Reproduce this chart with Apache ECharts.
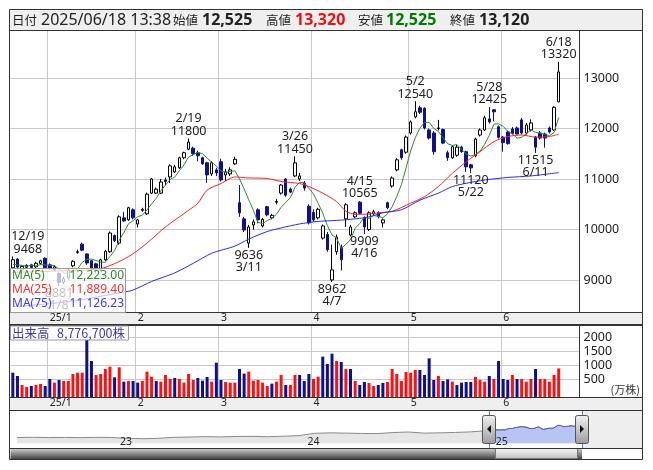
<!DOCTYPE html>
<html><head><meta charset="utf-8">
<script src="https://cdn.jsdelivr.net/npm/echarts@6/dist/echarts.min.js"></script>
<style>html,body{margin:0;padding:0;background:#fff;}#c{width:653px;height:470px;}</style>
</head><body><div id="c"></div>
<script>
// ---------------- DATA ----------------
const days = [
'2024-12-19','2024-12-20','2024-12-23','2024-12-24','2024-12-25','2024-12-26','2024-12-27','2024-12-30',
'2025-01-06','2025-01-07','2025-01-08','2025-01-09','2025-01-10','2025-01-14','2025-01-15','2025-01-16','2025-01-17','2025-01-20','2025-01-21','2025-01-22','2025-01-23','2025-01-24','2025-01-27','2025-01-28','2025-01-29','2025-01-30','2025-01-31',
'2025-02-03','2025-02-04','2025-02-05','2025-02-06','2025-02-07','2025-02-10','2025-02-12','2025-02-13','2025-02-14','2025-02-17','2025-02-18','2025-02-19','2025-02-20','2025-02-21','2025-02-25','2025-02-26','2025-02-27','2025-02-28',
'2025-03-03','2025-03-04','2025-03-05','2025-03-06','2025-03-07','2025-03-10','2025-03-11','2025-03-12','2025-03-13','2025-03-14','2025-03-17','2025-03-18','2025-03-19','2025-03-21','2025-03-24','2025-03-25','2025-03-26','2025-03-27','2025-03-28','2025-03-31',
'2025-04-01','2025-04-02','2025-04-03','2025-04-04','2025-04-07','2025-04-08','2025-04-09','2025-04-10','2025-04-11','2025-04-14','2025-04-15','2025-04-16','2025-04-17','2025-04-18','2025-04-21','2025-04-22','2025-04-23','2025-04-24','2025-04-25','2025-04-28','2025-04-30',
'2025-05-01','2025-05-02','2025-05-07','2025-05-08','2025-05-09','2025-05-12','2025-05-13','2025-05-14','2025-05-15','2025-05-16','2025-05-19','2025-05-20','2025-05-21','2025-05-22','2025-05-23','2025-05-26','2025-05-27','2025-05-28','2025-05-29','2025-05-30',
'2025-06-02','2025-06-03','2025-06-04','2025-06-05','2025-06-06','2025-06-09','2025-06-10','2025-06-11','2025-06-12','2025-06-13','2025-06-16','2025-06-17','2025-06-18'];

const opens = [9240,9415,9200,9250,9300,9260,9330,9430,
9300,9200,9130,8960,9040,9280,9545,9710,9515,9380,9320,9200,9400,9560,9880,9730,10230,10190,10390,
10110,10380,10310,10720,10720,10720,10980,11040,11140,11220,11420,11590,11610,11520,11420,11320,11100,11180,
11340,11080,11100,11300,10530,10210,9730,10090,10390,10070,10450,10230,10540,10720,11000,10800,11060,11000,10920,10460,
10340,10230,9830,9900,9000,9560,9650,10210,9890,10250,10540,10230,10000,10310,10330,10130,10530,10860,11180,11580,11530,
11910,12230,12410,12400,11970,11910,12000,11980,11520,11420,11470,11630,11540,11280,11460,11870,11970,12190,12370,12035,
11830,11930,11990,12010,12170,11910,11970,11830,11910,11890,12010,11970,12525];
const highs = [9468,9430,9290,9310,9320,9360,9400,9450,
9330,9290,9150,9060,9230,9390,9600,9740,9530,9400,9340,9420,9600,9960,9900,10280,10350,10450,10420,
10210,10430,10730,11020,10830,11000,11030,11290,11280,11440,11540,11800,11640,11560,11440,11340,11350,11220,
11400,11200,11230,11440,10880,10250,10090,10200,10420,10230,10470,10310,10600,10900,11020,10830,11450,11120,10960,10500,
10400,10430,10100,9950,9700,9900,9700,10520,10090,10360,10565,10260,10360,10390,10360,10220,10550,11050,11410,11600,11860,
12160,12540,12450,12420,12000,11950,12170,12000,11560,11660,11680,11660,11560,11300,11820,12000,12250,12425,12380,12060,
11850,11960,12030,12040,12210,12110,12180,11850,11950,11920,12040,12440,13320];
const lows = [9210,9220,9180,9230,9230,9240,9300,9220,
9200,9170,8881,8920,9010,9250,9520,9570,9300,9150,9130,9170,9380,9540,9750,9700,10150,10170,10200,
10040,10350,10290,10700,10700,10700,10880,10920,11120,11200,11390,11570,11460,11350,11280,10920,11060,11060,
10950,10960,11060,11280,10250,9950,9636,10000,10120,10040,10260,10200,10500,10690,10650,10720,11040,10960,10770,10100,
10150,10200,9800,9560,8962,9500,9190,10050,9860,10230,10300,9909,9970,10280,10220,10040,10400,10830,11150,11380,11500,
11880,12200,12290,11980,11780,11480,11960,11690,11360,11400,11440,11520,11140,11120,11430,11840,11950,12100,12140,11800,
11540,11680,11880,11880,11880,11880,11940,11515,11780,11620,11900,11950,12525];
const closes = [9400,9255,9270,9290,9250,9330,9380,9240,
9230,9260,8950,9020,9200,9370,9560,9590,9337,9210,9230,9400,9570,9930,9780,10250,10170,10430,10230,
10190,10400,10700,11000,10800,10940,10950,11260,11240,11420,11520,11730,11500,11460,11300,11080,11320,11120,
10980,11140,11180,11390,10330,9990,10050,10150,10190,10200,10290,10280,10555,10880,10680,10740,11320,11060,10820,10130,
10190,10400,10070,9600,9200,9850,9400,10490,10050,10330,10320,10050,10330,10350,10250,10190,10430,11020,11380,11420,11830,
12130,12330,12320,12010,11810,11540,12010,11710,11420,11640,11630,11540,11240,11220,11790,11970,12210,12130,12330,11825,
11720,11700,11900,11890,11910,12070,12110,11630,11810,11810,11930,12420,13120];

// volume in 万株 (10,000 shares); volUp: 1 = red bar, 0 = navy bar
const volumes = [725,607,286,214,250,286,321,250,
500,369,464,429,429,679,726,726,1893,1143,643,679,857,940,560,917,405,429,429,
369,429,762,583,429,405,643,500,536,500,369,679,464,536,440,571,405,1083,
464,393,369,369,857,690,762,440,464,369,250,333,405,643,286,286,643,643,429,679,
500,583,1298,1036,1405,1143,1107,857,857,429,286,393,357,250,286,357,393,857,679,429,750,
726,821,821,643,1238,464,607,429,488,405,286,369,393,393,571,464,405,607,500,1143,
500,464,643,500,500,405,500,857,500,500,405,643,877.67];
const volUp = [0,0,1,1,0,1,1,0,
0,1,0,1,1,1,1,1,0,0,1,1,1,1,0,1,0,1,0,
0,1,1,1,0,1,1,1,0,1,1,1,1,0,0,0,1,0,
0,1,1,1,0,0,1,1,1,1,1,0,1,1,0,1,1,0,0,0,
1,1,0,0,0,1,0,1,0,1,0,0,1,1,0,0,1,1,1,1,1,
1,1,0,0,0,0,1,0,0,1,0,0,0,0,1,1,1,0,1,0,
0,0,1,0,1,1,1,0,1,1,1,1,1];

const ma5Lead = [9310, 9300, 9290, 9270];
const ma25Points = [['2024-12-19',9150],['2025-01-08',9180],['2025-01-22',9225],['2025-01-30',9460],['2025-02-05',9730],
['2025-02-12',10050],['2025-02-19',10380],['2025-02-21',10520],['2025-02-26',10780],['2025-03-03',10910],['2025-03-06',11040],
['2025-03-11',11020],['2025-03-17',11010],['2025-03-21',10950],['2025-03-27',10910],['2025-03-31',10850],['2025-04-03',10720],
['2025-04-08',10550],['2025-04-10',10360],['2025-04-14',10300],['2025-04-17',10305],['2025-04-21',10330],['2025-04-24',10360],
['2025-05-01',10520],['2025-05-08',10650],['2025-05-13',10850],['2025-05-16',11110],['2025-05-21',11340],['2025-05-26',11540],
['2025-05-29',11740],['2025-06-03',11840],['2025-06-06',11870],['2025-06-11',11830],['2025-06-16',11840],['2025-06-18',11889]];
const ma75Points = [['2024-12-19',8470],['2025-01-10',8570],['2025-01-29',8760],['2025-01-31',8800],['2025-02-06',8970],
['2025-02-14',9140],['2025-02-20',9330],['2025-02-27',9530],['2025-03-06',9670],['2025-03-11',9810],['2025-03-17',9960],
['2025-03-21',10030],['2025-03-27',10110],['2025-04-02',10160],['2025-04-07',10175],['2025-04-11',10200],['2025-04-17',10250],
['2025-04-22',10330],['2025-04-28',10390],['2025-05-07',10580],['2025-05-13',10720],['2025-05-16',10850],['2025-05-21',10915],
['2025-05-27',10980],['2025-06-03',11030],['2025-06-10',11060],['2025-06-18',11126]];
const maLegendValues = [12223.00, 11889.40, 11126.23];
const maNames = ['MA(5)', 'MA(25)', 'MA(75)'];

const priceTicks = [9000, 10000, 11000, 12000, 13000];
const volTicks = [500, 1000, 1500, 2000];
const monthTickLabels = ['25/1', '2', '3', '4', '5', '6'];
const highMarks = [['2024-12-19',9468],['2025-02-19',11800],['2025-03-26',11450],['2025-04-15',10565],['2025-05-02',12540],['2025-05-28',12425],['2025-06-18',13320]];
const lowMarks = [['2025-01-08',8881],['2025-03-11',9636],['2025-04-07',8962],['2025-04-16',9909],['2025-05-22',11120],['2025-06-11',11515]];

const navHistDates = ['2022-06-15','2022-07-15','2022-08-15','2022-09-15','2022-10-15','2022-11-15','2022-12-15',
'2023-01-15','2023-02-15','2023-03-15','2023-04-15','2023-05-15','2023-06-15','2023-07-15','2023-08-15','2023-09-15','2023-10-15','2023-11-15','2023-12-15',
'2024-01-15','2024-02-15','2024-03-15','2024-04-15','2024-05-15','2024-06-15','2024-07-15','2024-08-15','2024-09-15','2024-10-15','2024-11-15','2024-12-10'];
const navHistValues = [4000,4150,3950,4050,3900,4100,4000,
3400,3200,3400,4100,4300,4600,4400,4700,4800,4500,4900,5300,
6900,7200,7000,6800,6700,7400,7800,7000,7200,7500,7900,8600];
const navStart = '2022-06-02';
const navYearTicks = ['2023-01-01', '2024-01-01', '2025-01-01'];
const quoteTime = '2025/06/18 13:38';
const lastVolumeShares = 8776700;

// ---------------- BUILD ----------------
const FF = '"Noto Sans","Noto Sans CJK JP",sans-serif';
const FJ = '"Noto Sans CJK JP","Noto Sans",sans-serif';
const N = days.length;
const cats = days.concat(['pad1', 'pad2', 'pad3', 'pad4']);
const monthStart = {};
let k = 0;
for (let i = 1; i < N; i++) {
  if (days[i].slice(0, 7) !== days[i - 1].slice(0, 7)) monthStart[i] = monthTickLabels[k++];
}
const isMonth = (i) => monthStart[i] !== undefined;
const md = d => { const p = d.split('-'); return (+p[1]) + '/' + (+p[2]); };
const ts = s => +echarts.time.parse(s);
const fmt = (v, d) => v.toLocaleString('en-US', {minimumFractionDigits: d || 0, maximumFractionDigits: d || 0});

const candleData = days.map((d, i) => [opens[i], closes[i], lows[i], highs[i]]);
const ma5 = closes.map((c, i) => {
  if (i < 4) return ma5Lead[i];
  let s = 0; for (let j = i - 4; j <= i; j++) s += closes[j];
  return +(s / 5).toFixed(2);
});
const sparse = pts => { const a = days.map(() => null); pts.forEach(([d, v]) => { a[days.indexOf(d)] = v; }); return a; };
const ma25 = sparse(ma25Points), ma75 = sparse(ma75Points);

const markData = highMarks.map(([d, v]) => ({
  coord: [d, v],
  label: {position: 'top', distance: 1, formatter: md(d) + '\n' + v, offset: d === days[0] ? [15, 0] : [0, 0]}
})).concat(lowMarks.map(([d, v]) => ({
  coord: [d, v],
  label: {position: 'bottom', distance: 1, formatter: v + '\n' + md(d)}
})));

const selData = days.map((d, i) => [ts(d), closes[i]]);
const navData = navHistDates.map((d, i) => [ts(d), navHistValues[i]]).concat(selData);

const catAxis = (gi) => ({
  type: 'category', gridIndex: gi, data: cats, boundaryGap: true,
  axisLine: {show: false}, axisTick: {show: false},
  axisLabel: {interval: (i) => isMonth(i), formatter: (v, i) => monthStart[i] || '', align: 'left',
    margin: 1, fontSize: 10.5, color: '#222', fontFamily: FF},
  splitLine: {show: true, interval: (i) => isMonth(i), lineStyle: {color: '#c8c8c8', width: 1}}
});

const option = {
  animation: false,
  backgroundColor: '#ffffff',
  grid: [
    {left: 10.5, right: 73.5, top: 30, bottom: 158},
    {left: 10.5, right: 73.5, top: 325, bottom: 73},
    {left: 10.5, right: 71, top: 410, bottom: 22}
  ],
  xAxis: [
    catAxis(0), catAxis(1),
    {type: 'value', gridIndex: 2, min: ts(navStart), max: ts(days[N - 1]), z: 20,
      axisLine: {show: false}, axisTick: {show: false}, splitLine: {show: false},
      axisLabel: {inside: true, customValues: navYearTicks.map(ts), margin: 1, align: 'left',
        formatter: v => String(new Date(v).getFullYear()).slice(2), fontSize: 10.5, color: '#222', fontFamily: FF}}
  ],
  yAxis: [
    {type: 'value', gridIndex: 0, position: 'right', min: 8366, max: 13950,
      axisLine: {show: false}, axisTick: {show: false, customValues: priceTicks},
      axisLabel: {customValues: priceTicks, formatter: v => String(v), margin: 4, fontSize: 12.5, color: '#222', fontFamily: FF},
      splitLine: {show: true, lineStyle: {color: '#c8c8c8'}}},
    {type: 'value', gridIndex: 1, position: 'right', min: -143, max: 2428, startValue: -143,
      axisLine: {show: false}, axisTick: {show: false, customValues: volTicks},
      axisLabel: {customValues: volTicks, formatter: v => String(v), margin: 4, fontSize: 12.5, color: '#222', fontFamily: FF},
      splitLine: {show: true, lineStyle: {color: '#c8c8c8'}}},
    {type: 'value', gridIndex: 2, min: -3240, max: 22960, show: false}
  ],
  series: [
    {type: 'candlestick', xAxisIndex: 0, yAxisIndex: 0, data: candleData, barWidth: 3, silent: true, z: 3,
      itemStyle: {color: '#ffffff', color0: '#10108a', borderColor: '#000000', borderColor0: '#10108a', borderWidth: 1},
      markPoint: {symbol: 'circle', symbolSize: 0, silent: true,
        label: {show: true, color: '#222', fontSize: 12.5, lineHeight: 12.5, fontFamily: FF},
        data: markData}},
    {type: 'line', xAxisIndex: 0, yAxisIndex: 0, data: ma5, symbol: 'none', silent: true, z: 4,
      lineStyle: {color: '#2e8b2e', width: 1}},
    {type: 'line', xAxisIndex: 0, yAxisIndex: 0, data: ma25, symbol: 'none', connectNulls: true, smooth: 0.25, silent: true, z: 4,
      lineStyle: {color: '#ff2020', width: 1}},
    {type: 'line', xAxisIndex: 0, yAxisIndex: 0, data: ma75, symbol: 'none', connectNulls: true, smooth: 0.25, silent: true, z: 4,
      lineStyle: {color: '#2a2aff', width: 1}},
    {type: 'bar', xAxisIndex: 1, yAxisIndex: 1, barWidth: 3, silent: true,
      data: volumes.map((v, i) => ({value: v, itemStyle: {color: volUp[i] ? '#ff1010' : '#10108a'}}))},
    {type: 'line', xAxisIndex: 2, yAxisIndex: 2, data: navData, symbol: 'none', silent: true, z: 1,
      lineStyle: {color: '#8a8a8a', width: 1}, areaStyle: {color: '#e6e6e6', opacity: 1}},
    {type: 'line', xAxisIndex: 2, yAxisIndex: 2, data: selData, symbol: 'none', silent: true, z: 1,
      lineStyle: {color: '#5a5aa8', width: 1}, areaStyle: {color: '#b7c4f4', opacity: 1}}
  ]
};

const chart = echarts.init(document.getElementById('c'));
chart.setOption(option);

// ---------------- DECORATIONS (panels, boxes, header, navigator handles) ----------------
const sx = chart.convertToPixel({xAxisIndex: 2}, ts(days[0]));
const ex = chart.convertToPixel({xAxisIndex: 2}, ts(days[N - 1]));
const L = 9.5, R = 642.5;
const hline = (y, w) => ({type: 'line', z: 50, silent: true, shape: {x1: L, y1: y, x2: R, y2: y}, style: {stroke: '#333', lineWidth: w || 1}});
const vline = (x, y1, y2, c, z) => ({type: 'line', z: z || 50, silent: true, shape: {x1: x, y1: y1, x2: x, y2: y2}, style: {stroke: c || '#333', lineWidth: 1}});
const txt = (t, x, y, fill, font, align) => ({type: 'text', z: 60, silent: true, x: x, y: y,
  style: {text: t, fill: fill, font: font, align: align || 'left', verticalAlign: 'middle'}});
const grad = (c1, c2) => new echarts.graphic.LinearGradient(0, 0, 0, 1, [{offset: 0, color: c1}, {offset: 1, color: c2}]);

const last = N - 1;
const g = [];
// gray strips
g.push({type: 'rect', z: -10, silent: true, shape: {x: L, y: L, width: R - L, height: 30 - L}, style: {fill: '#efefef'}});
g.push({type: 'rect', z: -10, silent: true, shape: {x: L, y: 312, width: R - L, height: 13}, style: {fill: '#efefef'}});
g.push({type: 'rect', z: -10, silent: true, shape: {x: L, y: 397, width: R - L, height: 13}, style: {fill: '#efefef'}});
g.push({type: 'rect', z: -10, silent: true, shape: {x: ex, y: 410, width: R - ex, height: 38}, style: {fill: '#eeeeee'}});
// borders
g.push({type: 'rect', z: 50, silent: true, shape: {x: L, y: L, width: R - L, height: 459.5 - L}, style: {fill: null, stroke: '#333', lineWidth: 1}});
g.push(hline(30.5)); g.push(hline(312.5)); g.push(hline(325, 2)); g.push(hline(397.5)); g.push(hline(410.5));
g.push(vline(579.5, 30, 312)); g.push(vline(579.5, 325, 397));
// header
const hy = 20;
g.push(txt('日付', 12, hy, '#222', '12.5px ' + FJ));
g.push(txt(quoteTime, 41, hy, '#222', '16px ' + FF));
g.push(txt('始値', 173, hy, '#222', '12.5px ' + FJ));
g.push(txt(fmt(opens[last]), 202, hy, '#222', 'bold 16px ' + FF));
g.push(txt('高値', 266, hy, '#222', '12.5px ' + FJ));
g.push(txt(fmt(highs[last]), 295, hy, '#ee1111', 'bold 16px ' + FF));
g.push(txt('安値', 358, hy, '#222', '12.5px ' + FJ));
g.push(txt(fmt(lows[last]), 386, hy, '#007a00', 'bold 16px ' + FF));
g.push(txt('終値', 450, hy, '#222', '12.5px ' + FJ));
g.push(txt(fmt(closes[last]), 479, hy, '#222', 'bold 16px ' + FF));
// MA legend box
g.push({type: 'rect', z: 55, silent: true, shape: {x: 10.5, y: 268.5, width: 115, height: 44}, style: {fill: 'rgba(255,255,255,0.72)', stroke: '#9a9a9a', lineWidth: 1}});
const maCols = ['#2e8b2e', '#ff3030', '#3a3aff'];
[276, 290, 304].forEach((y, i) => {
  g.push(txt(maNames[i], 12, y, maCols[i], '12px ' + FF));
  g.push(txt(fmt(maLegendValues[i], 2), 124, y, maCols[i], '12px ' + FF, 'right'));
});
// volume caption box
g.push({type: 'rect', z: 55, silent: true, shape: {x: 10.5, y: 326, width: 118, height: 14}, style: {fill: 'rgba(255,255,255,0.8)', stroke: '#9a9a9a', lineWidth: 1}});
g.push(txt('出来高', 12, 333, '#3c3cb0', '12.5px ' + FJ));
g.push(txt(fmt(lastVolumeShares) + '株', 57, 333, '#3c3cb0', '12.5px ' + FJ));
g.push(txt('(万株)', 640, 390, '#333', '11px ' + FJ, 'right'));
// navigator scrollbar
g.push({type: 'rect', z: 40, silent: true, shape: {x: L + 1, y: 448, width: ex - L - 1, height: 11}, style: {fill: grad('#d6d6d6', '#454545')}});
g.push({type: 'rect', z: 41, silent: true, shape: {x: sx + 6.5, y: 448.5, width: ex - sx - 11, height: 10}, style: {fill: grad('#f6f6f6', '#c0c0c0'), stroke: '#777', lineWidth: 1}});
g.push(hline(448.5));
// selection edge lines and handles
g.push(vline(Math.round(sx) + 0.5, 410, 448, '#19a0d8', 45));
g.push(vline(Math.round(ex) + 0.5, 410, 448, '#19a0d8', 45));
[[sx, -1], [ex, 1]].forEach(([x, dir]) => {
  g.push({type: 'rect', z: 46, silent: true, shape: {x: x - 6.5, y: 415.5, width: 13, height: 28, r: 2},
    style: {fill: grad('#f2f2f2', '#9c9c9c'), stroke: '#555', lineWidth: 1}});
  g.push({type: 'polygon', z: 47, silent: true,
    shape: {points: [[x - 2 * dir, 425], [x - 2 * dir, 433], [x + 2 * dir, 429]]}, style: {fill: '#111'}});
});
chart.setOption({graphic: {elements: g}});
</script>
</body></html>
